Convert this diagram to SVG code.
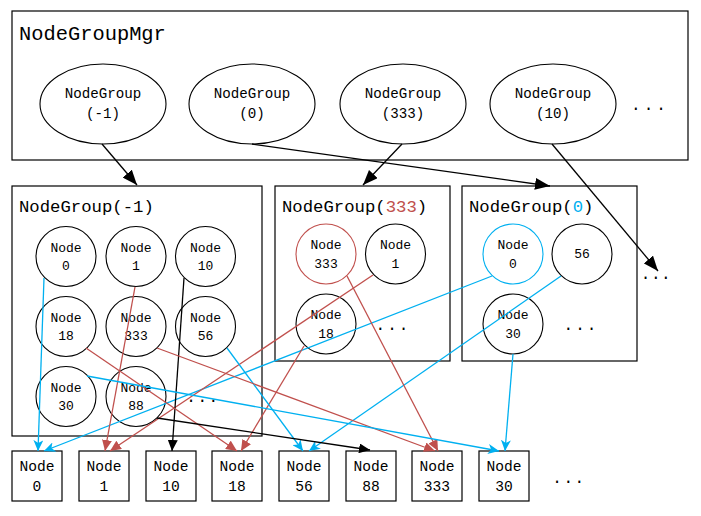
<svg xmlns="http://www.w3.org/2000/svg" width="701" height="516" viewBox="0 0 701 516">
<defs>
<style>
text{font-family:"Liberation Mono","DejaVu Sans Mono",monospace;fill:#000}
.box{fill:#fff;stroke:#000;stroke-width:1.2}
.c{fill:#fff;stroke:#000;stroke-width:1.1}
.ell{fill:#fff;stroke:#000;stroke-width:1.1}
.t1{font-size:20.4px}
.t2{font-size:17.3px}
.te{font-size:14.2px;text-anchor:middle}
.tc{font-size:13px;text-anchor:middle}
.tb{font-size:14.6px;text-anchor:middle}
.dots{font-size:16px;text-anchor:middle}
.k{stroke:#000;stroke-width:1.3;fill:none}
.r{stroke:#C0504D;stroke-width:1.3;fill:none}
.b{stroke:#00B0F0;stroke-width:1.3;fill:none}
</style>
<marker id="ak" markerUnits="userSpaceOnUse" markerWidth="16" markerHeight="12" refX="15" refY="6" orient="auto"><path d="M0,0 L15,6 L0,12 z" fill="#000"/></marker>
<marker id="sk" markerUnits="userSpaceOnUse" markerWidth="12" markerHeight="10" refX="11" refY="5" orient="auto"><path d="M0,0 L11,5 L0,10 z" fill="#000"/></marker>
<marker id="sr" markerUnits="userSpaceOnUse" markerWidth="12" markerHeight="10" refX="11" refY="5" orient="auto"><path d="M0,0 L11,5 L0,10 z" fill="#C0504D"/></marker>
<marker id="sb" markerUnits="userSpaceOnUse" markerWidth="12" markerHeight="10" refX="11" refY="5" orient="auto"><path d="M0,0 L11,5 L0,10 L3,5 z" fill="#00B0F0"/></marker>
</defs>
<rect width="701" height="516" fill="#fff"/>

<g id="mgr">
<rect class="box" x="12" y="11" width="676" height="149"/>
<text class="t1" x="19" y="40">NodeGroupMgr</text>
</g>
<g id="ng-e-m1"><ellipse class="ell" cx="103" cy="104" rx="63" ry="40"/><text class="te" x="103" y="97.5">NodeGroup</text><text class="te" x="103" y="118">(-1)</text></g>
<g id="ng-e-0"><ellipse class="ell" cx="252" cy="104" rx="63" ry="40"/><text class="te" x="252" y="97.5">NodeGroup</text><text class="te" x="252" y="118">(0)</text></g>
<g id="ng-e-333"><ellipse class="ell" cx="403" cy="104" rx="63" ry="40"/><text class="te" x="403" y="97.5">NodeGroup</text><text class="te" x="403" y="118">(333)</text></g>
<g id="ng-e-10"><ellipse class="ell" cx="553" cy="104" rx="63" ry="40"/><text class="te" x="553" y="97.5">NodeGroup</text><text class="te" x="553" y="118">(10)</text></g>
<text class="dots" x="650" y="110" letter-spacing="3">...</text>

<g id="ng-m1">
<rect class="box" x="12" y="186" width="250" height="250"/>
<text class="t2" x="19" y="212">NodeGroup(-1)</text>
<circle class="c" cx="66" cy="256.5" r="30"/><text class="tc" x="66" y="251.5">Node</text><text class="tc" x="66" y="270">0</text>
<circle class="c" cx="136" cy="256.5" r="30"/><text class="tc" x="136" y="251.5">Node</text><text class="tc" x="136" y="270">1</text>
<circle class="c" cx="205.5" cy="256.5" r="30"/><text class="tc" x="205.5" y="251.5">Node</text><text class="tc" x="205.5" y="270">10</text>
<circle class="c" cx="66" cy="326.5" r="30"/><text class="tc" x="66" y="321.5">Node</text><text class="tc" x="66" y="340">18</text>
<circle class="c" cx="136" cy="326.5" r="30"/><text class="tc" x="136" y="321.5">Node</text><text class="tc" x="136" y="340">333</text>
<circle class="c" cx="205.5" cy="326.5" r="30"/><text class="tc" x="205.5" y="321.5">Node</text><text class="tc" x="205.5" y="340">56</text>
<circle class="c" cx="66" cy="396.5" r="30"/><text class="tc" x="66" y="391.5">Node</text><text class="tc" x="66" y="410">30</text>
<circle class="c" cx="136" cy="396.5" r="30"/><text class="tc" x="136" y="391.5">Node</text><text class="tc" x="136" y="410">88</text>
<text class="dots" x="203" y="402" letter-spacing="1.5">...</text>
</g>

<g id="ng-333">
<rect class="box" x="275" y="186" width="175" height="175"/>
<text class="t2" x="282" y="212">NodeGroup(<tspan fill="#C0504D">333</tspan>)</text>
<circle class="c" cx="326" cy="254" r="30" stroke="#C0504D" style="stroke:#C0504D"/><text class="tc" x="326" y="249">Node</text><text class="tc" x="326" y="267.5">333</text>
<circle class="c" cx="395.5" cy="254" r="30"/><text class="tc" x="395.5" y="249">Node</text><text class="tc" x="395.5" y="267.5">1</text>
<circle class="c" cx="326" cy="324" r="30"/><text class="tc" x="326" y="319">Node</text><text class="tc" x="326" y="337.5">18</text>
<text class="dots" x="393" y="330" letter-spacing="2">...</text>
</g>

<g id="ng-0">
<rect class="box" x="462" y="186" width="175" height="175"/>
<text class="t2" x="469" y="212">NodeGroup(<tspan fill="#00B0F0">0</tspan>)</text>
<circle class="c" cx="513" cy="254" r="30" style="stroke:#00B0F0"/><text class="tc" x="513" y="249">Node</text><text class="tc" x="513" y="267.5">0</text>
<circle class="c" cx="582" cy="254" r="30"/><text class="tc" x="582" y="258">56</text>
<circle class="c" cx="513" cy="324" r="30"/><text class="tc" x="513" y="319">Node</text><text class="tc" x="513" y="337.5">30</text>
<text class="dots" x="581" y="330" letter-spacing="2">...</text>
</g>
<text class="dots" x="656" y="279" letter-spacing="0.5">...</text>

<g id="bn-0"><rect class="box" x="12" y="451" width="50" height="50"/><text class="tb" x="37" y="471">Node</text><text class="tb" x="37" y="491">0</text></g>
<g id="bn-1"><rect class="box" x="79" y="451" width="50" height="50"/><text class="tb" x="104" y="471">Node</text><text class="tb" x="104" y="491">1</text></g>
<g id="bn-10"><rect class="box" x="146" y="451" width="50" height="50"/><text class="tb" x="171" y="471">Node</text><text class="tb" x="171" y="491">10</text></g>
<g id="bn-18"><rect class="box" x="212" y="451" width="50" height="50"/><text class="tb" x="237" y="471">Node</text><text class="tb" x="237" y="491">18</text></g>
<g id="bn-56"><rect class="box" x="279" y="451" width="50" height="50"/><text class="tb" x="304" y="471">Node</text><text class="tb" x="304" y="491">56</text></g>
<g id="bn-88"><rect class="box" x="346" y="451" width="50" height="50"/><text class="tb" x="371" y="471">Node</text><text class="tb" x="371" y="491">88</text></g>
<g id="bn-333"><rect class="box" x="412" y="451" width="50" height="50"/><text class="tb" x="437" y="471">Node</text><text class="tb" x="437" y="491">333</text></g>
<g id="bn-30"><rect class="box" x="479" y="451" width="50" height="50"/><text class="tb" x="504" y="471">Node</text><text class="tb" x="504" y="491">30</text></g>
<text class="dots" x="569" y="483" letter-spacing="1.5">...</text>

<g id="connectors">
<line class="k" x1="102" y1="144" x2="137" y2="185" marker-end="url(#ak)"/>
<line class="k" x1="252" y1="144" x2="550" y2="186" marker-end="url(#ak)"/>
<line class="k" x1="402" y1="144" x2="363" y2="185" marker-end="url(#ak)"/>
<line class="k" x1="552" y1="144" x2="658" y2="271" marker-end="url(#ak)"/>

<line class="b" x1="44" y1="278" x2="38" y2="451" marker-end="url(#sb)"/>
<line class="b" x1="492" y1="276" x2="44" y2="451" marker-end="url(#sb)"/>
<line class="r" x1="135" y1="287" x2="105" y2="451" marker-end="url(#sr)"/>
<line class="r" x1="373" y1="275" x2="110" y2="451" marker-end="url(#sr)"/>
<line class="k" x1="184" y1="278" x2="172" y2="451" marker-end="url(#sk)"/>
<line class="r" x1="86" y1="348" x2="237" y2="451" marker-end="url(#sr)"/>
<line class="r" x1="304" y1="346" x2="241" y2="451" marker-end="url(#sr)"/>
<line class="b" x1="227" y1="348" x2="303" y2="451" marker-end="url(#sb)"/>
<line class="b" x1="561" y1="276" x2="309" y2="451" marker-end="url(#sb)"/>
<line class="k" x1="157" y1="418" x2="370" y2="450" marker-end="url(#sk)"/>
<line class="r" x1="157" y1="348" x2="435" y2="451" marker-end="url(#sr)"/>
<line class="r" x1="347" y1="276" x2="438" y2="451" marker-end="url(#sr)"/>
<line class="b" x1="87" y1="376" x2="499" y2="451" marker-end="url(#sb)"/>
<line class="b" x1="513" y1="354" x2="505" y2="451" marker-end="url(#sb)"/>
</g>
</svg>
